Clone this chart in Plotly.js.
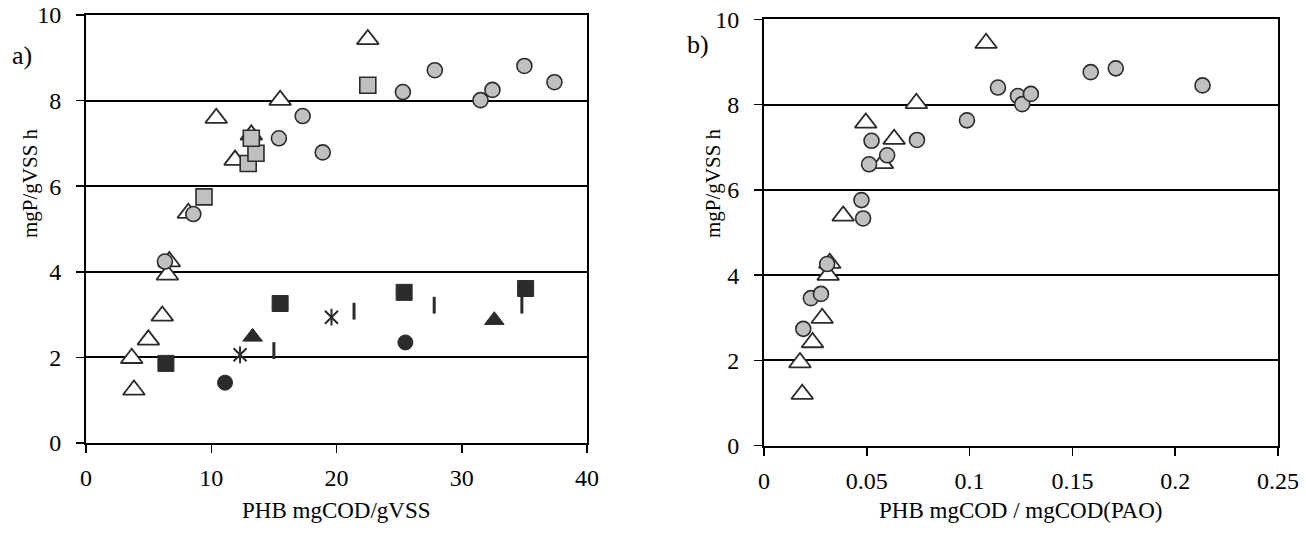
<!DOCTYPE html>
<html>
<head>
<meta charset="utf-8">
<script src="https://cdn.plot.ly/plotly-3.0.1.min.js"></script>
<style>
  html, body { margin: 0; padding: 0; background: #ffffff; }
  #chart { width: 1306px; height: 533px; }
</style>
</head>
<body>
<div id="chart"></div>
<script>
// ---------- Panel a) : PHB mgCOD/gVSS vs mgP/gVSS h ----------
const aOpenTriX = [3.83, 3.65, 4.98, 6.09, 6.5, 6.65, 8.17, 11.9, 10.4, 13.2, 15.5, 22.5];
const aOpenTriY = [1.24, 1.98, 2.41, 2.97, 3.93, 4.24, 5.37, 6.61, 7.59, 7.2, 8.01, 9.43];

const aGraySqX = [9.42, 12.95, 13.57, 13.2, 22.5];
const aGraySqY = [5.75, 6.53, 6.77, 7.12, 8.36];

const aGrayCircX = [6.3, 8.57, 15.4, 17.3, 18.9, 25.3, 27.85, 31.5, 32.45, 35.0, 37.4];
const aGrayCircY = [4.24, 5.35, 7.12, 7.64, 6.79, 8.2, 8.71, 8.01, 8.25, 8.81, 8.43];

const aBlackSqX = [6.38, 15.5, 25.4, 35.1];
const aBlackSqY = [1.86, 3.26, 3.52, 3.61];

const aBlackTriX = [13.3, 32.6];
const aBlackTriY = [2.48, 2.87];

const aBlackCircX = [11.1, 25.5];
const aBlackCircY = [1.41, 2.35];

const aStarX = [12.3, 19.6];
const aStarY = [2.06, 2.94];

const aBarX = [15.0, 21.4, 27.8, 34.8];
const aBarY = [2.16, 3.08, 3.22, 3.22];

// ---------- Panel b) : PHB mgCOD / mgCOD(PAO) vs mgP/gVSS h ----------
const bOpenTriX = [0.0186, 0.0175, 0.0236, 0.0283, 0.0312, 0.032, 0.0385, 0.0495, 0.0576, 0.0633, 0.0741, 0.108];
const bOpenTriY = [1.21, 1.95, 2.42, 2.99, 4.0, 4.28, 5.39, 7.57, 6.62, 7.19, 8.03, 9.44];

const bGrayCircX = [0.0191, 0.0228, 0.0277, 0.0307, 0.0474, 0.0482, 0.0511, 0.0523, 0.0599, 0.0744, 0.0987, 0.1138, 0.1235, 0.1256, 0.1298, 0.1589, 0.1711, 0.2133];
const bGrayCircY = [2.74, 3.46, 3.56, 4.26, 5.76, 5.33, 6.6, 7.15, 6.81, 7.17, 7.63, 8.4, 8.2, 8.01, 8.25, 8.76, 8.85, 8.45];

// ---------- Axis text ----------
const yTitle = "mgP/gVSS h";
const aXTitle = "PHB mgCOD/gVSS";
const bXTitle = "PHB mgCOD / mgCOD(PAO)";
const aXTicks = [0, 10, 20, 30, 40];
const bXTicks = [0, 0.05, 0.1, 0.15, 0.2, 0.25];
const bXTickText = ["0", "0.05", "0.1", "0.15", "0.2", "0.25"];
const yTicks = [0, 2, 4, 6, 8, 10];

// ---------- Styles ----------
const W = 1306, H = 533;
const DARK = "#2b2b2b";
const GRAY = "#c0c0c0";
const FONT = "'Liberation Serif', 'Times New Roman', Times, serif";

function openTri(x, y, xa, ya) {
  return { x, y, xaxis: xa, yaxis: ya, type: "scatter", mode: "markers",
    marker: { symbol: "triangle-up", size: 19, color: "#ffffff", line: { color: DARK, width: 1.8 } } };
}
function grayCirc(x, y, xa, ya) {
  return { x, y, xaxis: xa, yaxis: ya, type: "scatter", mode: "markers",
    marker: { symbol: "circle", size: 15, color: GRAY, line: { color: DARK, width: 1.6 } } };
}

const traces = [
  openTri(aOpenTriX, aOpenTriY, "x", "y"),
  { x: aGraySqX, y: aGraySqY, type: "scatter", mode: "markers", xaxis: "x", yaxis: "y",
    marker: { symbol: "square", size: 16, color: GRAY, line: { color: DARK, width: 1.6 } } },
  grayCirc(aGrayCircX, aGrayCircY, "x", "y"),
  { x: aBlackSqX, y: aBlackSqY, type: "scatter", mode: "markers", xaxis: "x", yaxis: "y",
    marker: { symbol: "square", size: 16, color: DARK, line: { color: DARK, width: 1 } } },
  { x: aBlackTriX, y: aBlackTriY, type: "scatter", mode: "markers", xaxis: "x", yaxis: "y",
    marker: { symbol: "triangle-up", size: 17, color: DARK, line: { color: DARK, width: 1 } } },
  { x: aBlackCircX, y: aBlackCircY, type: "scatter", mode: "markers", xaxis: "x", yaxis: "y",
    marker: { symbol: "circle", size: 15, color: DARK, line: { color: DARK, width: 1 } } },
  { x: aStarX, y: aStarY, type: "scatter", mode: "markers", xaxis: "x", yaxis: "y",
    marker: { symbol: "x-thin", size: 13, color: DARK, line: { color: DARK, width: 2 } } },
  { x: aStarX, y: aStarY, type: "scatter", mode: "markers", xaxis: "x", yaxis: "y",
    marker: { symbol: "line-ns", size: 12, color: DARK, line: { color: DARK, width: 2 } } },
  { x: aBarX, y: aBarY, type: "scatter", mode: "markers", xaxis: "x", yaxis: "y",
    marker: { symbol: "line-ns", size: 12, color: DARK, line: { color: DARK, width: 3 } } },

  openTri(bOpenTriX, bOpenTriY, "x2", "y2"),
  grayCirc(bGrayCircX, bGrayCircY, "x2", "y2")
];

const axisCommon = {
  showline: true, linecolor: "#000", linewidth: 2, mirror: true,
  ticks: "outside", ticklen: 8, tickwidth: 1.5, tickcolor: "#000",
  zeroline: false, fixedrange: true,
  tickfont: { family: FONT, size: 24, color: "#000" }
};

const layout = {
  width: W, height: H,
  margin: { l: 0, r: 0, t: 0, b: 0 },
  paper_bgcolor: "#ffffff", plot_bgcolor: "#ffffff",
  showlegend: false,
  font: { family: FONT, color: "#000" },
  xaxis: Object.assign({}, axisCommon, {
    domain: [86 / W, 587 / W], range: [0, 40], tickmode: "array", tickvals: aXTicks,
    showgrid: false, anchor: "y", ticklabelstandoff: 4
  }),
  yaxis: Object.assign({}, axisCommon, {
    domain: [(H - 443) / H, (H - 15) / H], range: [0, 10], tickmode: "array", tickvals: yTicks,
    showgrid: true, gridcolor: "#000", gridwidth: 2, anchor: "x", ticklabelstandoff: 10
  }),
  xaxis2: Object.assign({}, axisCommon, {
    domain: [764 / W, 1278 / W], range: [0, 0.25], tickmode: "array", tickvals: bXTicks, ticktext: bXTickText,
    showgrid: false, anchor: "y2", ticklabelstandoff: 4
  }),
  yaxis2: Object.assign({}, axisCommon, {
    domain: [(H - 445.7) / H, (H - 19.3) / H], range: [0, 10], tickmode: "array", tickvals: yTicks,
    showgrid: true, gridcolor: "#000", gridwidth: 2, anchor: "x2", ticklabelstandoff: 10
  }),
  annotations: [
    { text: "a)", x: 22 / W, y: 1 - 56 / H, xref: "paper", yref: "paper", showarrow: false,
      xanchor: "center", yanchor: "middle", font: { family: FONT, size: 26, color: "#000" } },
    { text: "b)", x: 698 / W, y: 1 - 44 / H, xref: "paper", yref: "paper", showarrow: false,
      xanchor: "center", yanchor: "middle", font: { family: FONT, size: 26, color: "#000" } },
    { text: yTitle, x: 30 / W, y: 1 - 183 / H, xref: "paper", yref: "paper", showarrow: false,
      textangle: -90, xanchor: "center", yanchor: "middle", font: { family: FONT, size: 21, color: "#000" } },
    { text: yTitle, x: 713 / W, y: 1 - 183 / H, xref: "paper", yref: "paper", showarrow: false,
      textangle: -90, xanchor: "center", yanchor: "middle", font: { family: FONT, size: 21, color: "#000" } },
    { text: aXTitle, x: 336 / W, y: 1 - 510 / H, xref: "paper", yref: "paper", showarrow: false,
      xanchor: "center", yanchor: "middle", font: { family: FONT, size: 23, color: "#000" } },
    { text: bXTitle, x: 1021 / W, y: 1 - 511 / H, xref: "paper", yref: "paper", showarrow: false,
      xanchor: "center", yanchor: "middle", font: { family: FONT, size: 23, color: "#000" } }
  ]
};

Plotly.newPlot("chart", traces, layout, { staticPlot: true, displayModeBar: false });
</script>
</body>
</html>
